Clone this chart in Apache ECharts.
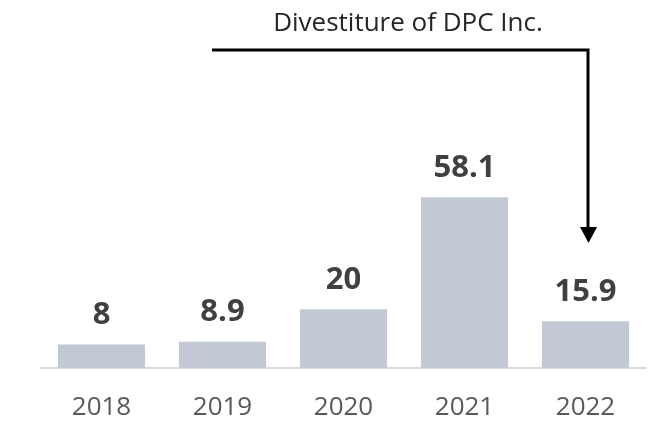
<!DOCTYPE html>
<html>
<head>
<meta charset="utf-8">
<script src="https://cdn.jsdelivr.net/npm/echarts@6/dist/echarts.min.js"></script>
<style>html,body{margin:0;padding:0;background:#fff}#c{width:648px;height:424px}</style>
</head>
<body>
<div id="c"></div>
<script>
const categories = ['2018', '2019', '2020', '2021', '2022'];
const values = [8, 8.9, 20, 58.1, 15.9];
const annotationText = 'Divestiture of DPC Inc.';

const chart = echarts.init(document.getElementById('c'), null, {renderer: 'canvas'});
chart.setOption({
  animation: false,
  backgroundColor: '#ffffff',
  grid: {left: 41, right: 2, top: 74, bottom: 56},
  xAxis: {
    type: 'category',
    data: categories,
    axisLine: {show: true, lineStyle: {color: '#d9d9d9', width: 2}},
    axisTick: {show: false},
    axisLabel: {color: '#595959', fontSize: 26, fontFamily: 'Open Sans', margin: 27}
  },
  yAxis: {
    type: 'value', min: 0, max: 100,
    show: false, splitLine: {show: false}
  },
  series: [{
    type: 'bar',
    data: values,
    barCategoryGap: '28%',
    itemStyle: {color: '#c2c9d4'},
    label: {
      show: true, position: 'top', distance: 14,
      color: '#404040', fontSize: 31, fontWeight: 'bold', fontFamily: 'Open Sans'
    }
  }],
  graphic: [
    {type: 'text', z: 10, x: 408, y: 24,
     style: {text: annotationText, fontSize: 26, fontFamily: 'Open Sans', fill: '#262626', textAlign: 'center', textVerticalAlign: 'middle'}},
    {type: 'polyline', z: 10, shape: {points: [[212, 50], [588, 50], [588, 230]]},
     style: {stroke: '#000', lineWidth: 3, fill: null}},
    {type: 'polygon', z: 10, shape: {points: [[580, 227], [597, 227], [588.5, 243]]},
     style: {fill: '#000'}}
  ]
});
</script>
</body>
</html>
